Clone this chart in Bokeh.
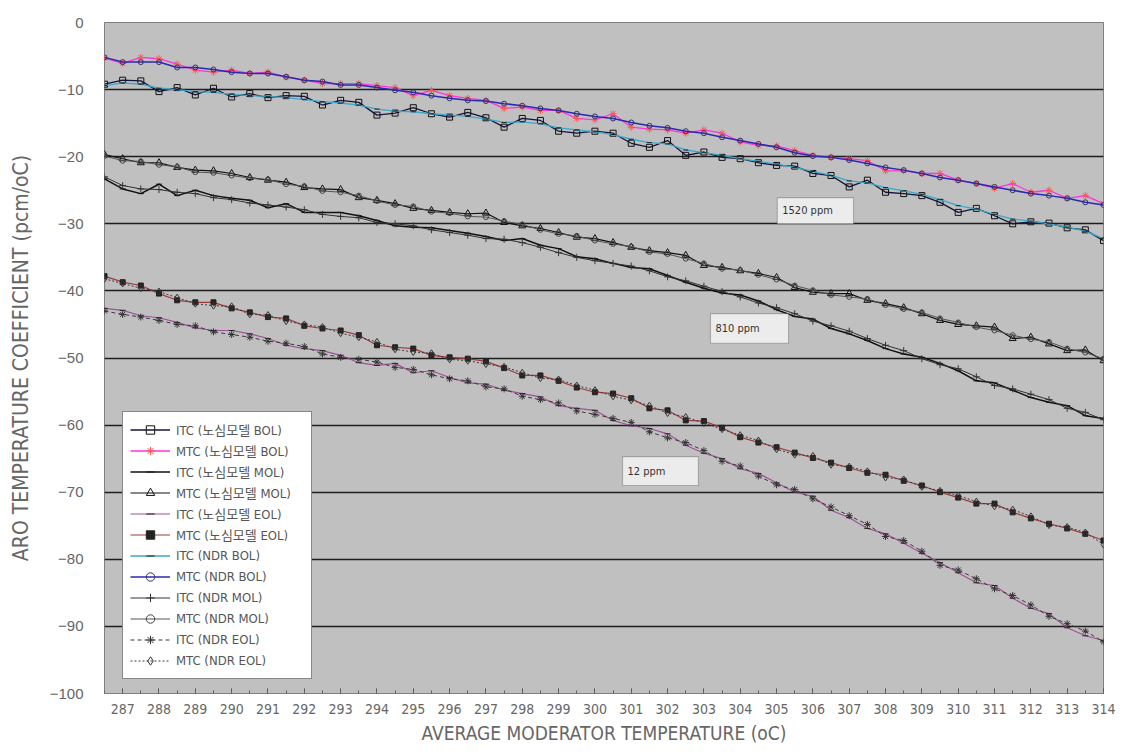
from bokeh.plotting import figure
from bokeh.models import Range1d, FixedTicker, Legend, LegendItem, Label, BoxAnnotation
from bokeh.embed import file_html
from bokeh.resources import INLINE

# ---------------- data ----------------
temperature = [286.5, 287.0, 287.5, 288.0, 288.5, 289.0, 289.5, 290.0, 290.5, 291.0,
               291.5, 292.0, 292.5, 293.0, 293.5, 294.0, 294.5, 295.0, 295.5, 296.0,
               296.5, 297.0, 297.5, 298.0, 298.5, 299.0, 299.5, 300.0, 300.5, 301.0,
               301.5, 302.0, 302.5, 303.0, 303.5, 304.0, 304.5, 305.0, 305.5, 306.0,
               306.5, 307.0, 307.5, 308.0, 308.5, 309.0, 309.5, 310.0, 310.5, 311.0,
               311.5, 312.0, 312.5, 313.0, 313.5, 314.0]

x_tick_labels = [287, 288, 289, 290, 291, 292, 293, 294, 295, 296, 297, 298, 299, 300,
                 301, 302, 303, 304, 305, 306, 307, 308, 309, 310, 311, 312, 313, 314]
y_tick_values = [0, -10, -20, -30, -40, -50, -60, -70, -80, -90, -100]

itc_core_bol = [-9.2, -8.6, -8.7, -10.3, -9.7, -10.8, -9.8, -11.1, -10.6, -11.2,
                -10.9, -11.0, -12.3, -11.6, -11.9, -13.8, -13.5, -12.7, -13.6, -14.1,
                -13.4, -14.2, -15.6, -14.3, -14.6, -16.2, -16.5, -16.2, -16.5, -18.0,
                -18.6, -17.6, -19.8, -19.3, -20.1, -20.3, -20.9, -21.3, -21.4, -22.5,
                -22.8, -24.5, -23.5, -25.3, -25.5, -25.8, -26.8, -28.3, -27.7, -28.8,
                -30.0, -29.7, -29.9, -30.6, -30.9, -32.5]
mtc_core_bol = [-5.3, -6.1, -5.2, -5.4, -6.2, -7.1, -7.4, -7.1, -7.6, -7.4,
                -8.1, -8.6, -9.1, -9.1, -9.1, -9.4, -9.7, -10.9, -10.1, -10.9,
                -11.3, -11.6, -12.8, -12.6, -13.1, -13.1, -14.3, -14.5, -13.6, -15.6,
                -15.9, -16.0, -16.5, -16.0, -16.5, -17.8, -18.3, -18.4, -19.1, -19.8,
                -20.1, -20.3, -20.6, -22.1, -22.1, -22.5, -22.5, -23.5, -24.0, -24.7,
                -24.0, -25.3, -25.0, -26.2, -25.8, -27.0]
itc_core_mol = [-23.3, -24.8, -25.5, -24.1, -25.8, -25.0, -25.8, -26.2, -26.5, -27.6,
                -27.0, -28.3, -28.3, -28.3, -28.8, -29.5, -30.3, -30.5, -30.6, -31.0,
                -31.4, -31.9, -32.5, -32.2, -33.2, -33.7, -34.9, -35.2, -35.9, -36.5,
                -36.7, -37.7, -38.7, -39.6, -40.3, -40.6, -41.5, -42.8, -43.8, -44.2,
                -45.6, -46.4, -47.4, -48.6, -49.4, -49.9, -50.8, -51.9, -53.4, -53.7,
                -54.8, -55.9, -56.6, -57.1, -58.6, -59.0]
mtc_core_mol = [-19.7, -20.3, -20.9, -20.9, -21.6, -22.0, -22.1, -22.5, -23.1, -23.5,
                -23.8, -24.6, -24.8, -24.9, -26.1, -26.5, -27.0, -27.7, -28.0, -28.3,
                -28.5, -28.4, -29.8, -30.3, -30.7, -31.3, -32.0, -32.2, -32.8, -33.5,
                -34.0, -34.3, -34.7, -36.2, -36.5, -37.0, -37.4, -38.0, -39.5, -40.2,
                -40.4, -40.4, -41.4, -41.9, -42.5, -43.4, -44.4, -45.0, -45.2, -45.4,
                -47.1, -46.9, -47.9, -48.9, -48.8, -50.4]
itc_core_eol = [-42.6, -42.9, -43.7, -44.0, -44.7, -45.5, -45.9, -45.9, -46.4, -47.1,
                -48.1, -48.6, -48.9, -49.6, -50.7, -51.1, -50.8, -52.2, -51.9, -52.9,
                -53.7, -53.9, -54.8, -55.3, -55.8, -57.1, -57.5, -57.8, -59.3, -60.1,
                -60.5, -61.3, -63.0, -64.2, -65.0, -66.5, -67.2, -68.6, -70.0, -70.6,
                -72.7, -73.8, -75.4, -76.2, -77.6, -79.1, -80.5, -82.0, -83.5, -83.9,
                -85.8, -87.3, -88.1, -90.2, -91.4, -92.1]
mtc_core_eol = [-37.8, -38.7, -39.2, -40.4, -41.4, -41.7, -41.7, -42.6, -43.2, -43.9,
                -44.1, -45.2, -45.6, -45.9, -46.6, -48.1, -48.4, -48.6, -49.6, -49.9,
                -50.1, -50.5, -51.5, -52.6, -52.6, -53.4, -54.4, -55.1, -55.3, -56.0,
                -57.5, -57.8, -59.3, -59.4, -60.4, -61.8, -62.6, -63.3, -64.1, -64.9,
                -65.6, -66.4, -67.1, -67.4, -68.3, -69.0, -70.0, -70.8, -71.7, -71.7,
                -73.0, -73.9, -74.7, -75.4, -76.2, -77.2]
itc_ndr_bol = [-9.4, -9.0, -9.2, -9.8, -10.0, -10.3, -10.4, -10.7, -10.9, -11.0,
               -11.2, -11.5, -11.8, -12.0, -12.3, -12.9, -13.2, -13.3, -13.6, -13.8,
               -14.0, -14.4, -14.9, -14.8, -15.1, -15.7, -16.0, -16.3, -16.7, -17.4,
               -17.9, -18.1, -19.0, -19.4, -19.8, -20.3, -20.7, -21.1, -21.6, -22.2,
               -22.8, -23.6, -23.9, -24.6, -25.1, -25.6, -26.4, -27.3, -27.8, -28.6,
               -29.3, -29.6, -30.0, -30.5, -31.1, -32.2]
mtc_ndr_bol = [-5.2, -5.9, -5.9, -5.9, -6.7, -6.7, -7.0, -7.4, -7.6, -7.6,
               -8.1, -8.6, -8.8, -9.3, -9.3, -9.7, -10.1, -10.4, -10.9, -11.3,
               -11.6, -11.7, -12.1, -12.4, -12.8, -13.1, -13.6, -14.0, -14.3, -14.9,
               -15.4, -15.7, -16.2, -16.5, -17.1, -17.6, -18.1, -18.6, -19.4, -19.9,
               -20.1, -20.5, -21.0, -21.6, -22.0, -22.5, -23.1, -23.5, -24.0, -24.5,
               -25.0, -25.5, -25.8, -26.2, -26.8, -27.2]
itc_ndr_mol = [-23.0, -24.3, -24.8, -24.9, -25.3, -25.5, -26.1, -26.4, -26.9, -27.2,
               -27.5, -27.9, -28.6, -28.9, -29.1, -29.8, -30.0, -30.3, -30.9, -31.3,
               -31.7, -32.2, -32.3, -32.8, -33.5, -34.3, -35.0, -35.5, -35.9, -36.3,
               -37.0, -37.9, -38.5, -39.3, -40.1, -40.9, -41.8, -42.5, -43.4, -44.5,
               -45.2, -46.0, -47.1, -48.1, -48.9, -50.1, -51.0, -51.6, -52.8, -54.1,
               -54.6, -55.4, -56.2, -57.5, -58.1, -59.2]
mtc_ndr_mol = [-19.9, -20.6, -20.7, -21.2, -21.5, -22.3, -22.4, -22.8, -23.2, -23.4,
               -24.1, -24.4, -25.1, -25.3, -25.8, -26.6, -27.2, -27.4, -28.2, -28.4,
               -28.9, -29.0, -29.6, -30.1, -30.9, -31.5, -31.8, -32.5, -33.0, -33.4,
               -34.2, -34.5, -35.2, -35.9, -36.7, -36.9, -37.6, -38.3, -39.2, -39.9,
               -40.6, -40.9, -41.2, -42.1, -42.7, -43.2, -44.1, -44.7, -45.4, -45.9,
               -46.6, -47.2, -47.6, -48.6, -49.2, -50.1]
itc_ndr_eol = [-43.0, -43.5, -43.9, -44.4, -45.0, -45.2, -46.1, -46.5, -46.9, -47.5,
               -47.8, -48.3, -49.4, -49.9, -50.2, -50.6, -51.4, -51.7, -52.5, -53.1,
               -53.4, -54.3, -54.6, -55.7, -56.2, -56.7, -57.9, -58.4, -59.0, -59.6,
               -61.0, -61.9, -62.6, -63.8, -65.4, -66.1, -67.6, -68.9, -69.6, -71.0,
               -72.2, -73.5, -74.8, -76.6, -77.2, -78.8, -80.9, -81.6, -82.9, -84.4,
               -85.4, -86.8, -88.5, -89.6, -90.7, -92.3]
mtc_ndr_eol = [-38.2, -38.9, -39.6, -40.1, -41.0, -41.9, -42.2, -42.3, -43.5, -43.6,
               -44.5, -45.0, -45.4, -46.3, -46.9, -47.6, -48.7, -49.1, -49.3, -50.2,
               -50.4, -50.9, -51.3, -52.2, -53.0, -53.2, -54.1, -54.8, -55.7, -56.3,
               -57.1, -58.2, -58.8, -59.7, -60.6, -61.5, -62.3, -63.6, -64.4, -64.6,
               -65.9, -66.2, -66.9, -67.8, -68.1, -69.2, -69.8, -70.5, -71.4, -72.1,
               -72.6, -73.6, -74.9, -75.2, -76.0, -77.8]

series_labels = ["ITC (노심모델 BOL)", "MTC (노심모델 BOL)", "ITC (노심모델 MOL)",
                 "MTC (노심모델 MOL)", "ITC (노심모델 EOL)", "MTC (노심모델 EOL)",
                 "ITC (NDR BOL)", "MTC (NDR BOL)", "ITC (NDR MOL)",
                 "MTC (NDR MOL)", "ITC (NDR EOL)", "MTC (NDR EOL)"]

boron_labels = ["1520 ppm", "810 ppm", "12 ppm"]

# ---------------- figure ----------------
NARROW = "'DejaVu Sans Condensed', 'Noto Sans CJK KR', sans-serif"
REG = "'Liberation Sans', 'Noto Sans CJK KR', sans-serif"

p = figure(width=1118, height=747, output_backend="svg", toolbar_location=None,
           x_range=Range1d(286.5, 314.0), y_range=Range1d(-100, 0),
           min_border_left=104, min_border_right=15, min_border_top=22, min_border_bottom=54)

p.background_fill_color = "#c0c0c0"
p.border_fill_color = "white"
p.outline_line_color = "#808080"
p.outline_line_width = 1

p.xgrid.grid_line_color = None
p.ygrid.ticker = FixedTicker(ticks=y_tick_values)
p.ygrid.grid_line_color = "#1e1e1e"
p.ygrid.grid_line_width = 1.4

p.yaxis.ticker = FixedTicker(ticks=y_tick_values)
p.yaxis.axis_line_color = None
p.yaxis.major_tick_line_color = None
p.yaxis.minor_tick_line_color = None
p.yaxis.major_label_text_font = REG
p.yaxis.major_label_text_font_size = "15px"
p.yaxis.major_label_text_color = "#666666"
p.yaxis.major_label_standoff = 15
p.yaxis.axis_label = "ARO TEMPERATURE COEFFICIENT (pcm/oC)"
p.yaxis.axis_label_text_font = NARROW
p.yaxis.axis_label_text_font_style = "normal"
p.yaxis.axis_label_text_font_size = "21px"
p.yaxis.axis_label_text_color = "#666666"
p.yaxis.axis_label_standoff = 14

p.xaxis.ticker = FixedTicker(ticks=x_tick_labels, minor_ticks=temperature)
p.xaxis.axis_line_color = None
p.xaxis.major_tick_in = 5
p.xaxis.major_tick_out = 0
p.xaxis.minor_tick_in = 3
p.xaxis.minor_tick_out = 0
p.xaxis.major_tick_line_color = "#505050"
p.xaxis.minor_tick_line_color = "#606060"
p.xaxis.major_label_text_font = NARROW
p.xaxis.major_label_text_font_size = "14px"
p.xaxis.major_label_text_color = "#666666"
p.xaxis.major_label_standoff = 10
p.xaxis.axis_label = "AVERAGE MODERATOR TEMPERATURE (oC)"
p.xaxis.axis_label_text_font = NARROW
p.xaxis.axis_label_text_font_style = "normal"
p.xaxis.axis_label_text_font_size = "19px"
p.xaxis.axis_label_text_color = "#666666"
p.xaxis.axis_label_standoff = 5

styles = [
    # (data, line color, line width, dash, marker, marker line color, marker fill, size)
    (itc_core_bol, "#14143c", 1.3, "solid", "square", "#111111", None, 6),
    (mtc_core_bol, "#ff33dd", 1.3, "solid", "asterisk", "#ff5555", None, 7),
    (itc_core_mol, "#111111", 1.5, "solid", "dash", "#111111", None, 6),
    (mtc_core_mol, "#111111", 1.2, "solid", "triangle", "#111111", None, 7),
    (itc_core_eol, "#a05098", 1.2, "solid", "dash", "#222222", None, 6),
    (mtc_core_eol, "#a03a3a", 1.2, "solid", "square", "#222222", "#222222", 5),
    (itc_ndr_bol, "#3aa8c8", 1.3, "solid", "dash", "#222222", None, 5),
    (mtc_ndr_bol, "#2a2ab0", 1.5, "solid", "circle", "#333366", None, 5),
    (itc_ndr_mol, "#333333", 1.0, "solid", "cross", "#333333", None, 7),
    (mtc_ndr_mol, "#555555", 1.0, "solid", "circle", "#444444", None, 5),
    (itc_ndr_eol, "#3a3a3a", 1.0, "4 3", "asterisk", "#333333", None, 7),
    (mtc_ndr_eol, "#3a3a3a", 1.0, "2 2", "diamond", "#333333", None, 7),
]

items = []
for (ys, lc, lw, dash, mk, mlc, mfc, ms), lab in zip(styles, series_labels):
    r1 = p.line(temperature, ys, line_color=lc, line_width=lw, line_dash=dash)
    r2 = p.scatter(temperature, ys, marker=mk, size=ms, line_color=mlc,
                   fill_color=mfc, line_width=1)
    items.append(LegendItem(label=lab, renderers=[r1, r2]))

legend = Legend(items=items, location=(18, 14), orientation="vertical",
                label_text_font=NARROW, label_text_font_size="13px",
                label_text_color="#555555", label_height=21, glyph_height=21,
                glyph_width=40, label_width=128, label_standoff=6, spacing=0,
                padding=7, margin=0,
                border_line_color="#111111", border_line_width=1,
                background_fill_color="white", background_fill_alpha=1.0)
p.add_layout(legend, "center")

# boron concentration annotation boxes (left, right, top, bottom in data units)
boxes = [(305.02, 307.12, -26.1, -30.0),
         (303.18, 305.33, -43.4, -47.8),
         (300.76, 302.85, -64.7, -69.0)]
for (l, r, t, b), txt in zip(boxes, boron_labels):
    p.add_layout(BoxAnnotation(left=l, right=r, top=t, bottom=b,
                               fill_color="#ececec", fill_alpha=1.0,
                               line_color="#3a3a3a", line_width=1.2))
    p.add_layout(Label(x=l, y=(t + b) / 2, text=txt, x_offset=5,
                       text_baseline="middle", text_align="left",
                       text_font=NARROW, text_font_size="11px",
                       text_color="#333333"))

open("out.html", "w").write(file_html(p, INLINE))
